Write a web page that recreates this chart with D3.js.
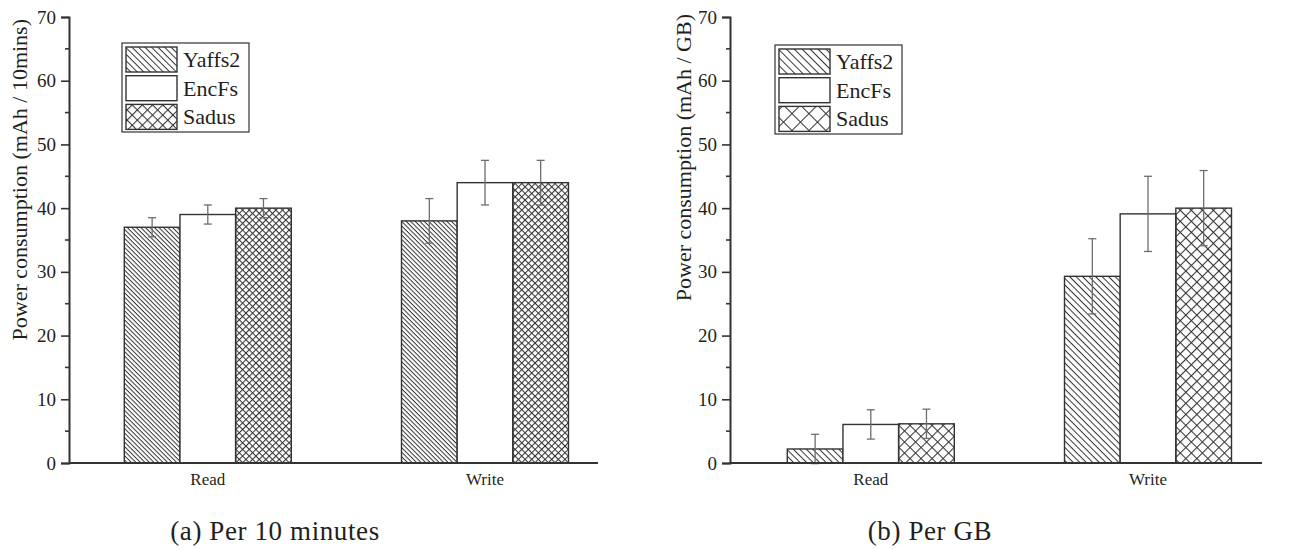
<!DOCTYPE html>
<html>
<head>
  <meta charset="utf-8">
  <script src="https://cdn.jsdelivr.net/npm/d3@7/dist/d3.min.js"></script>
  <style>
    body { margin: 0; background: #fff; }
    svg text { font-family: "Liberation Serif", Tinos, "Times New Roman", "DejaVu Serif", serif !important; fill: #231f20; }
  </style>
</head>
<body>
<script>
  // categories and series
  const categories = ["Read", "Write"];
  const series = ["Yaffs2", "EncFs", "Sadus"];
  const yTicks = [0, 10, 20, 30, 40, 50, 60, 70];

  // (a) per 10 minutes
  const yaffs2Time = [37, 38];
  const encfsTime = [39, 44];
  const sadusTime = [40, 44];
  const yaffs2TimeErr = [1.5, 3.5];
  const encfsTimeErr = [1.5, 3.5];
  const sadusTimeErr = [1.5, 3.5];

  // (b) per GB
  const yaffs2GB = [2.2, 29.3];
  const encfsGB = [6.05, 39.1];
  const sadusGB = [6.15, 40.0];
  const yaffs2GBErr = [2.3, 5.9];
  const encfsGBErr = [2.3, 5.9];
  const sadusGBErr = [2.3, 5.9];

  const width = 1292, height = 550;
  const svg = d3.select("body").append("svg")
    .attr("width", width)
    .attr("height", height);

  const defs = svg.append("defs");
  const ink = "#333";
  const serif = '"Liberation Serif", Tinos, "Times New Roman", "DejaVu Serif", serif';

  // hatch patterns: diagonal "\\" lines and a diamond cross-hatch
  function makePatterns(id, gap, cross) {
    const p1 = defs.append("pattern")
      .attr("id", id + "-diag")
      .attr("patternUnits", "userSpaceOnUse")
      .attr("width", gap).attr("height", gap)
      .attr("patternTransform", "rotate(45)");
    p1.append("line").attr("x1", 0).attr("y1", 0.5).attr("x2", gap).attr("y2", 0.5)
      .attr("stroke", ink).attr("stroke-width", 1);

    const p2 = defs.append("pattern")
      .attr("id", id + "-cross")
      .attr("patternUnits", "userSpaceOnUse")
      .attr("width", cross).attr("height", cross)
      .attr("patternTransform", "rotate(45)");
    p2.append("line").attr("x1", 0).attr("y1", 0.5).attr("x2", cross).attr("y2", 0.5)
      .attr("stroke", ink).attr("stroke-width", 1.1);
    p2.append("line").attr("x1", 0.5).attr("y1", 0).attr("x2", 0.5).attr("y2", cross)
      .attr("stroke", ink).attr("stroke-width", 1.1);
  }
  makePatterns("a", 3.2, 4.7);
  makePatterns("aleg", 4.6, 7.2);
  makePatterns("b", 4.6, 7.8);
  makePatterns("bleg", 5.6, 12);

  function fills(id) {
    return [`url(#${id}-diag)`, "#fff", `url(#${id}-cross)`];
  }

  function drawPanel(opt) {
    const g = svg.append("g").attr("font-family", serif);
    const y = d3.scaleLinear().domain([0, 70]).range([463, 17]);
    const x = d3.scalePoint().domain(categories).range(opt.centers);
    const xs = d3.scaleBand().domain(series).range([-83.5, 83.5]);

    const vals = [opt.a, opt.b, opt.c];
    const errs = [opt.ea, opt.eb, opt.ec];
    const f = fills(opt.id);

    const rows = [];
    categories.forEach((cat, i) => {
      series.forEach((s, k) => {
        rows.push({ cat, s, k, v: vals[k][i], e: errs[k][i] });
      });
    });

    // bars
    g.selectAll("rect.bar")
      .data(rows)
      .join("rect")
      .attr("class", "bar")
      .attr("x", d => x(d.cat) + xs(d.s))
      .attr("width", xs.bandwidth())
      .attr("y", d => y(d.v))
      .attr("height", d => y(0) - y(d.v))
      .attr("fill", d => f[d.k])
      .attr("stroke", ink)
      .attr("stroke-width", 1.4);

    // error bars
    const eg = g.selectAll("g.err")
      .data(rows)
      .join("g")
      .attr("class", "err")
      .attr("stroke", "#6e6e6e")
      .attr("stroke-width", 1.3);
    const cx = d => x(d.cat) + xs(d.s) + xs.bandwidth() / 2;
    eg.append("line")
      .attr("x1", cx).attr("x2", cx)
      .attr("y1", d => y(d.v + d.e)).attr("y2", d => y(d.v - d.e));
    eg.append("line")
      .attr("x1", d => cx(d) - 4).attr("x2", d => cx(d) + 4)
      .attr("y1", d => y(d.v + d.e)).attr("y2", d => y(d.v + d.e));
    eg.append("line")
      .attr("x1", d => cx(d) - 4).attr("x2", d => cx(d) + 4)
      .attr("y1", d => y(d.v - d.e)).attr("y2", d => y(d.v - d.e));

    // y axis
    const yAxis = g.append("g")
      .attr("transform", `translate(${opt.x0},0)`)
      .call(d3.axisLeft(y).tickValues(yTicks).tickSize(8).tickPadding(5));
    yAxis.attr("font-family", serif).attr("font-size", 19);
    yAxis.select(".domain").attr("stroke", ink).attr("stroke-width", 2);
    yAxis.selectAll(".tick line").attr("stroke", ink).attr("stroke-width", 1.6);
    yAxis.selectAll(".tick text").attr("fill", "#231f20");
    // minor ticks
    g.append("g")
      .attr("transform", `translate(${opt.x0},0)`)
      .selectAll("line")
      .data(d3.range(5, 70, 10))
      .join("line")
      .attr("x1", -4).attr("x2", 0)
      .attr("y1", d => y(d)).attr("y2", d => y(d))
      .attr("stroke", ink).attr("stroke-width", 1.6);

    // x axis line
    g.append("line")
      .attr("x1", opt.x0).attr("x2", opt.x1)
      .attr("y1", y(0)).attr("y2", y(0))
      .attr("stroke", ink).attr("stroke-width", 2);

    g.selectAll("text.cat")
      .data(categories)
      .join("text")
      .attr("class", "cat")
      .attr("x", d => x(d))
      .attr("y", 485)
      .attr("text-anchor", "middle")
      .attr("font-size", 17)
      .text(d => d);

    // y axis title
    g.append("text")
      .attr("transform", `translate(${opt.titleX},${opt.titleY}) rotate(-90)`)
      .attr("text-anchor", "end")
      .attr("font-size", opt.titleSize)
      .text(opt.title);

    // legend
    const lg = g.append("g").attr("transform", `translate(${opt.legX},${opt.legY})`);
    lg.append("rect")
      .attr("width", 127).attr("height", 89)
      .attr("fill", "#fff").attr("stroke", ink).attr("stroke-width", 1.2);
    const lf = fills(opt.id + "leg");
    series.forEach((s, k) => {
      lg.append("rect")
        .attr("x", 4).attr("y", 4 + k * 28.7)
        .attr("width", 51).attr("height", 25)
        .attr("fill", lf[k])
        .attr("stroke", ink).attr("stroke-width", 1.4);
      lg.append("text")
        .attr("x", 61).attr("y", 24 + k * 28.7)
        .attr("font-size", 22)
        .text(s);
    });

    // caption
    svg.append("text")
      .attr("x", opt.capX).attr("y", 540)
      .attr("text-anchor", "middle")
      .attr("font-family", serif)
      .attr("font-size", 27)
      .attr("letter-spacing", 0.6)
      .text(opt.caption);
  }

  drawPanel({
    id: "a", x0: 69, x1: 598, centers: [207.8, 485],
    a: yaffs2Time, b: encfsTime, c: sadusTime,
    ea: yaffs2TimeErr, eb: encfsTimeErr, ec: sadusTimeErr,
    title: "Power consumption (mAh / 10mins)", titleX: 27, titleY: 19, titleSize: 22,
    legX: 122, legY: 43, caption: "(a) Per 10 minutes", capX: 275
  });

  drawPanel({
    id: "b", x0: 730, x1: 1262, centers: [870.8, 1148],
    a: yaffs2GB, b: encfsGB, c: sadusGB,
    ea: yaffs2GBErr, eb: encfsGBErr, ec: sadusGBErr,
    title: "Power consumption (mAh / GB)", titleX: 691, titleY: 14, titleSize: 22,
    legX: 775, legY: 45, caption: "(b) Per GB", capX: 930
  });
</script>
</body>
</html>
